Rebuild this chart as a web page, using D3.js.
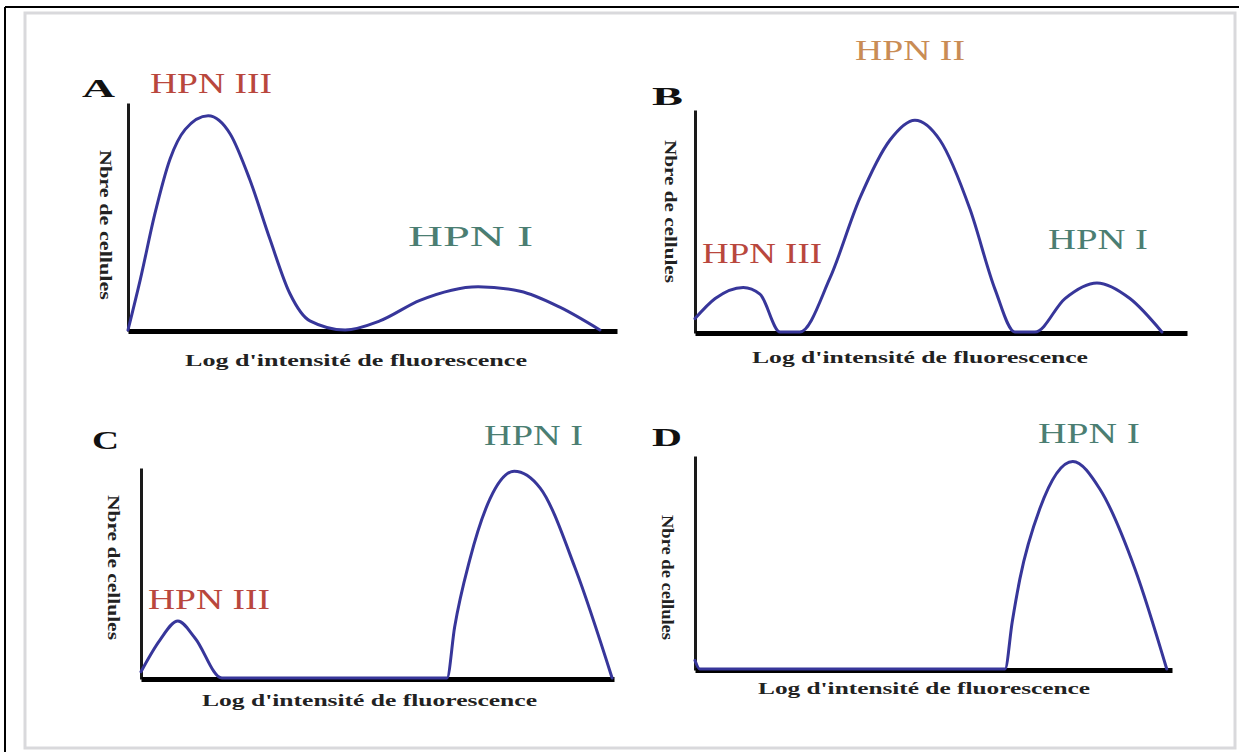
<!DOCTYPE html>
<html>
<head>
<meta charset="utf-8">
<script src="https://cdn.jsdelivr.net/npm/d3@7"></script>
<style>
  body { margin: 0; background: #fff; }
  svg { display: block; }
  text { font-family: "Liberation Serif", "Times New Roman", serif; }
</style>
</head>
<body>
<svg id="chart" width="1239" height="752"></svg>
<script>
// x = log of fluorescence intensity (0-100), y = number of cells (0-100)
var curveA_x = [0, 2.5, 5.5, 8.6, 11.7, 16.4, 20.9, 24.9, 29.0, 33.1, 37.2, 44.4, 51.5, 59.7, 71.6, 80.2, 88.3, 96.5];
var curveA_y = [0, 22, 51, 75, 88, 94, 86, 66, 40, 16, 4, 0, 4, 13, 19, 17, 10, 0];

var curveB_x = [0, 4.1, 9.8, 13.2, 17.3, 21.3, 27.4, 33.5, 39.6, 44.7, 49.8, 55.9, 61.0, 65.0, 69.1, 75.2, 81.7, 88.4, 94.9];
var curveB_y = [6, 15, 20, 17, 0, 0, 24, 60, 86, 95, 86, 55, 19, 0, 0, 15, 22, 15, 0];

var curveC_x = [0, 4.0, 7.8, 11.4, 17.1, 64.7, 66.3, 69.5, 73.8, 78.9, 84.4, 91.8, 99.6];
var curveC_y = [3, 18, 27, 19, 0, 0, 24, 56, 85, 98, 90, 52, 0];

var curveD_x = [0, 1, 65, 66.5, 68.1, 72.3, 79.2, 84.9, 92.2, 98.9];
var curveD_y = [4, 0, 0, 22, 42, 75, 97, 84, 47, 0];

var panelLetters = ["A", "B", "C", "D"];
var xTitle = "Log d'intensité de fluorescence";
var yTitle = "Nbre de cellules";
// population labels per panel
var peakNamesA = ["HPN III", "HPN I"];
var peakNamesB = ["HPN II", "HPN III", "HPN I"];
var peakNamesC = ["HPN I", "HPN III"];
var peakNamesD = ["HPN I"];

var popColor = {"HPN I": "#4b7e72", "HPN II": "#c98c55", "HPN III": "#b9473d"};

// where each panel sits on the page (pixels)
var panels = [
  {xs: curveA_x, ys: curveA_y, names: peakNamesA, x0: 128, x1: 617, base: 331, top: 103,
   letter: [82, 97, 33], xlab: [185, 366, 342], ylab: [100, 150, 150],
   peaks: [[150, 93, 122], [408, 246, 125]]},
  {xs: curveB_x, ys: curveB_y, names: peakNamesB, x0: 695, x1: 1187, base: 333, top: 110,
   letter: [652, 105, 31], xlab: [752, 363, 336], ylab: [665, 140, 143],
   peaks: [[855, 60, 110], [702, 263, 120], [1048, 249, 100]]},
  {xs: curveC_x, ys: curveC_y, names: peakNamesC, x0: 141, x1: 614, base: 679, top: 468,
   letter: [92, 449, 27], xlab: [202, 706, 335], ylab: [108, 495, 145],
   peaks: [[484, 445, 99], [148, 609, 122]]},
  {xs: curveD_x, ys: curveD_y, names: peakNamesD, x0: 695, x1: 1172, base: 670, top: 456,
   letter: [652, 446, 30], xlab: [758, 694, 332], ylab: [662, 515, 125],
   peaks: [[1038, 443, 102]]}
];

var svg = d3.select("#chart");

// page frame : black lines top/left, faint grey border of the scanned figure
svg.append("rect").attr("x", 0).attr("y", 0).attr("width", 1239).attr("height", 752).attr("fill", "#fff");
svg.append("rect").attr("x", 25).attr("y", 13).attr("width", 1210).attr("height", 735)
  .attr("fill", "none").attr("stroke", "#d9d9dc").attr("stroke-width", 3);
svg.append("line").attr("x1", 5).attr("x2", 1239).attr("y1", 7).attr("y2", 7).attr("stroke", "#000").attr("stroke-width", 2);
svg.append("line").attr("x1", 5).attr("x2", 5).attr("y1", 7).attr("y2", 752).attr("stroke", "#000").attr("stroke-width", 2);

for (var p = 0; p < panels.length; p++) {
  var pn = panels[p];
  var g = svg.append("g");
  var xScale = d3.scaleLinear().domain([0, 100]).range([pn.x0, pn.x1]);
  var yScale = d3.scaleLinear().domain([0, 100]).range([pn.base, pn.top]);

  // axes are bare lines, no ticks
  var yAx = g.append("g").attr("transform", "translate(" + pn.x0 + ",0)")
    .call(d3.axisLeft(yScale).ticks(0).tickSizeOuter(0));
  yAx.select(".domain").attr("stroke", "#1a1a1a").attr("stroke-width", 3);
  var xAx = g.append("g").attr("transform", "translate(0," + pn.base + ")")
    .call(d3.axisBottom(xScale).ticks(0).tickSizeOuter(0));
  xAx.select(".domain").attr("stroke", "#000").attr("stroke-width", 5);

  // histogram curve (monotone so the flat parts stay on the axis)
  var pts = pn.xs.map(function(v, i){ return [v, pn.ys[i]]; });
  var line = d3.line()
    .x(function(d){ return xScale(d[0]); })
    .y(function(d){ return yScale(d[1]) - 1; })
    .curve(d3.curveMonotoneX);
  g.append("path").attr("d", line(pts))
    .attr("fill", "none").attr("stroke", "#37369a").attr("stroke-width", 3)
    .attr("stroke-linejoin", "round").attr("stroke-linecap", "round");

  // panel letter
  g.append("text").text(panelLetters[p])
    .attr("x", pn.letter[0]).attr("y", pn.letter[1])
    .attr("textLength", pn.letter[2]).attr("lengthAdjust", "spacingAndGlyphs")
    .attr("font-size", 26).attr("font-weight", "bold").attr("fill", "#111");

  // axis titles
  g.append("text").text(xTitle)
    .attr("x", pn.xlab[0]).attr("y", pn.xlab[1])
    .attr("textLength", pn.xlab[2]).attr("lengthAdjust", "spacingAndGlyphs")
    .attr("font-size", 17).attr("font-weight", "bold").attr("fill", "#222");
  g.append("text").text(yTitle)
    .attr("transform", "translate(" + pn.ylab[0] + "," + pn.ylab[1] + ") rotate(90)")
    .attr("x", 0).attr("y", 0)
    .attr("textLength", pn.ylab[2]).attr("lengthAdjust", "spacingAndGlyphs")
    .attr("font-size", 16).attr("font-weight", "bold").attr("fill", "#222");

  // population names
  for (var k = 0; k < pn.names.length; k++) {
    g.append("text").text(pn.names[k])
      .attr("x", pn.peaks[k][0]).attr("y", pn.peaks[k][1])
      .attr("textLength", pn.peaks[k][2]).attr("lengthAdjust", "spacingAndGlyphs")
      .attr("font-size", 29).attr("fill", popColor[pn.names[k]]);
  }
}
</script>
</body>
</html>
